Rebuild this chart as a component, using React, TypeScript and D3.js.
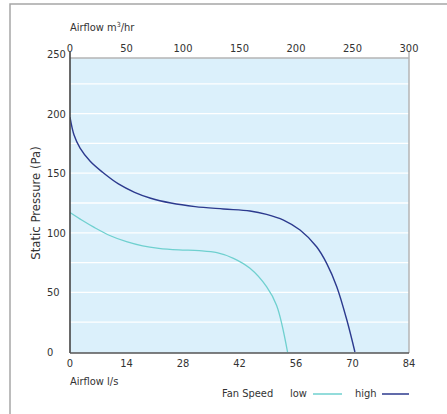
import React from "react";
import * as d3 from "d3";

const lsTicks = [0, 14, 28, 42, 56, 70, 84];
const m3Ticks = [0, 50, 100, 150, 200, 250, 300];
const paTicks = [0, 50, 100, 150, 200, 250];
const paGrid = [25, 50, 75, 100, 125, 150, 175, 200, 225];

const lowFlow = [0, 3, 6, 10, 14, 18, 22, 27, 32, 36.4, 40.5, 44.6, 48.7, 51.2, 53.9];
const lowPa = [117, 110.5, 104.5, 97.5, 92.5, 89, 87, 85.7, 85, 83.3, 78.6, 70.2, 54.8, 39, 0];

const highFlow = [0, 1, 2.5, 5, 8, 12, 16, 20, 25, 31, 38, 44.6, 48.7, 52.9, 57.0, 61.1, 63.6, 66.1, 68.6, 70.6];
const highPa = [197, 182, 171, 160, 151, 141, 134, 129, 125, 122, 120, 118.3, 115.5, 110.7, 102.3, 88.3, 74.4, 54.8, 26.8, 0];

const FONT = "Tahoma, 'DejaVu Sans Condensed', 'DejaVu Sans', sans-serif";

export default function App() {
  const W = 447, H = 414;
  const left = 70, right = 409, top = 58, bottom = 353;
  const x = d3.scaleLinear().domain([0, 84]).range([left, right]);
  const xm = d3.scaleLinear().domain([0, 300]).range([left, right]);
  const y = d3.scaleLinear().domain([0, 250]).range([352, 54]);

  const line = d3
    .line<[number, number]>()
    .x((d) => x(d[0]))
    .y((d) => y(d[1]))
    .curve(d3.curveCatmullRom.alpha(0.5));
  const lowPts = lowFlow.map((f, i) => [f, lowPa[i]] as [number, number]);
  const highPts = highFlow.map((f, i) => [f, highPa[i]] as [number, number]);

  return (
    <svg
      width={W}
      height={H}
      style={{ position: "absolute", left: 0, top: 0, display: "block" }}
      fontFamily={FONT}
    >
      <rect x={0} y={0} width={W} height={H} fill="#fff" />
      <rect x={10} y={4} width={W + 20} height={H + 20} fill="none" stroke="#a6a6a6" strokeWidth={1.5} />
      <defs>
        <clipPath id="plotclip">
          <rect x={left} y={top} width={right - left} height={bottom - top} />
        </clipPath>
      </defs>
      <rect x={left} y={top} width={right - left} height={bottom - top} fill="#dbf0fb" />
      {paGrid.map((v) => (
        <line key={v} x1={left} x2={right} y1={y(v)} y2={y(v)} stroke="#ffffff" strokeWidth={1.3} />
      ))}
      <line x1={left} x2={right} y1={top} y2={top} stroke="#b4b4b4" strokeWidth={1.3} />
      <line x1={right} x2={right} y1={top - 7} y2={bottom} stroke="#b4b4b4" strokeWidth={1.5} />
      <g clipPath="url(#plotclip)">
        <path d={line(lowPts) || ""} fill="none" stroke="#6fd0cf" strokeWidth={1.3} />
        <path d={line(highPts) || ""} fill="none" stroke="#2c3a8e" strokeWidth={1.4} />
      </g>
      <line x1={left} x2={left} y1={top - 6} y2={bottom} stroke="#444" strokeWidth={1.6} />
      <line x1={left} x2={right} y1={bottom} y2={bottom} stroke="#555" strokeWidth={1.6} />

      {paTicks.map((v) => (
        <text key={v} x={47} y={y(v) + 4} fontSize={11} fill="#333">
          {v}
        </text>
      ))}
      {m3Ticks.map((v) => (
        <text key={v} x={xm(v)} y={52} fontSize={11} fill="#333" textAnchor="middle">
          {v}
        </text>
      ))}
      {lsTicks.map((v) => (
        <text key={v} x={x(v)} y={367} fontSize={11} fill="#333" textAnchor="middle">
          {v}
        </text>
      ))}
      <text x={70} y={31} fontSize={11} fill="#333">
        Airflow m<tspan fontSize={7} dy={-4}>3</tspan>
        <tspan dy={4}>/hr</tspan>
      </text>
      <text x={70} y={385} fontSize={11} fill="#333">
        Airflow l/s
      </text>
      <text
        transform={`translate(40, ${y(125)}) rotate(-90)`}
        fontSize={13}
        fill="#333"
        textAnchor="middle"
      >
        Static Pressure (Pa)
      </text>
      <text x={222} y={397} fontSize={11} fill="#333">
        Fan Speed
      </text>
      <text x={290} y={397} fontSize={11} fill="#333">
        low
      </text>
      <line x1={313} x2={342} y1={394} y2={394} stroke="#6fd0cf" strokeWidth={1.5} />
      <text x={355} y={397} fontSize={11} fill="#333">
        high
      </text>
      <line x1={382} x2={409} y1={394} y2={394} stroke="#2c3a8e" strokeWidth={1.5} />
    </svg>
  );
}
